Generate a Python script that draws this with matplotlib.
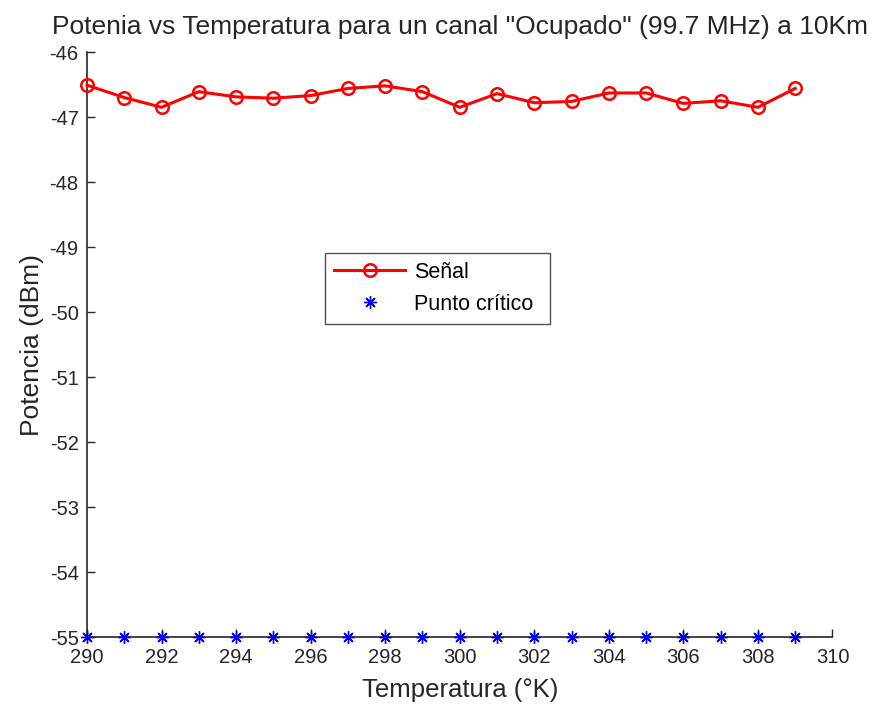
import matplotlib
matplotlib.use("Agg")
import matplotlib.pyplot as plt

plt.rcParams['font.family'] = ['Liberation Sans', 'DejaVu Sans']
plt.rcParams['axes.unicode_minus'] = False

temperatura = list(range(290, 310))
senal = [-46.51, -46.70, -46.85, -46.61, -46.69, -46.71, -46.67, -46.56, -46.52, -46.61,
         -46.85, -46.64, -46.78, -46.76, -46.63, -46.63, -46.79, -46.75, -46.85, -46.56]
punto_critico = [-55.0] * len(temperatura)

xticks = list(range(290, 311, 2))
yticks = list(range(-55, -45))

fig = plt.figure(figsize=(8.75, 7.06), dpi=100)
ax = fig.add_axes([0.0994, 0.0977, 0.8520, 0.8286])

ax.plot(temperatura, senal, color='red', linewidth=2.2, marker='o', markersize=9,
        markerfacecolor='none', markeredgecolor='red', markeredgewidth=1.8,
        label='Señal', clip_on=False, zorder=3)
ax.plot(temperatura, punto_critico, linestyle='none', marker=(8, 2, 0), markersize=9,
        color='blue', markeredgewidth=1.0, label='Punto crítico', clip_on=False, zorder=4)

ax.set_xlim(290, 310)
ax.set_ylim(-55, -46)
ax.set_xticks(xticks)
ax.set_yticks(yticks)
ax.tick_params(direction='in', length=6, width=1, labelsize=14.5, colors='#262626')
ax.tick_params(axis='x', pad=8)
ax.tick_params(axis='y', pad=6)
for s in ['top', 'right']:
    ax.spines[s].set_visible(False)
for s in ['left', 'bottom']:
    ax.spines[s].set_color('#262626')
    ax.spines[s].set_linewidth(1.2)

ax.set_title('Potenia vs Temperatura para un canal "Ocupado" (99.7 MHz) a 10Km',
             fontsize=19, color='#262626', pad=13)
ax.set_xlabel('Temperatura (°K)', fontsize=18.5, color='#262626', labelpad=8)
ax.set_ylabel('Potencia (dBm)', fontsize=19, color='#262626', labelpad=4)

leg = ax.legend(loc='upper left', bbox_to_anchor=(0.3195, 0.533, 0.302, 0.1235),
                mode='expand', fontsize=15.5, frameon=True, fancybox=False,
                edgecolor='#262626', borderaxespad=0, handlelength=3.3,
                handletextpad=0.4, borderpad=0.42, labelspacing=0.5)
leg.get_frame().set_linewidth(1.0)

fig.savefig('out.png', dpi=100, facecolor='white')
